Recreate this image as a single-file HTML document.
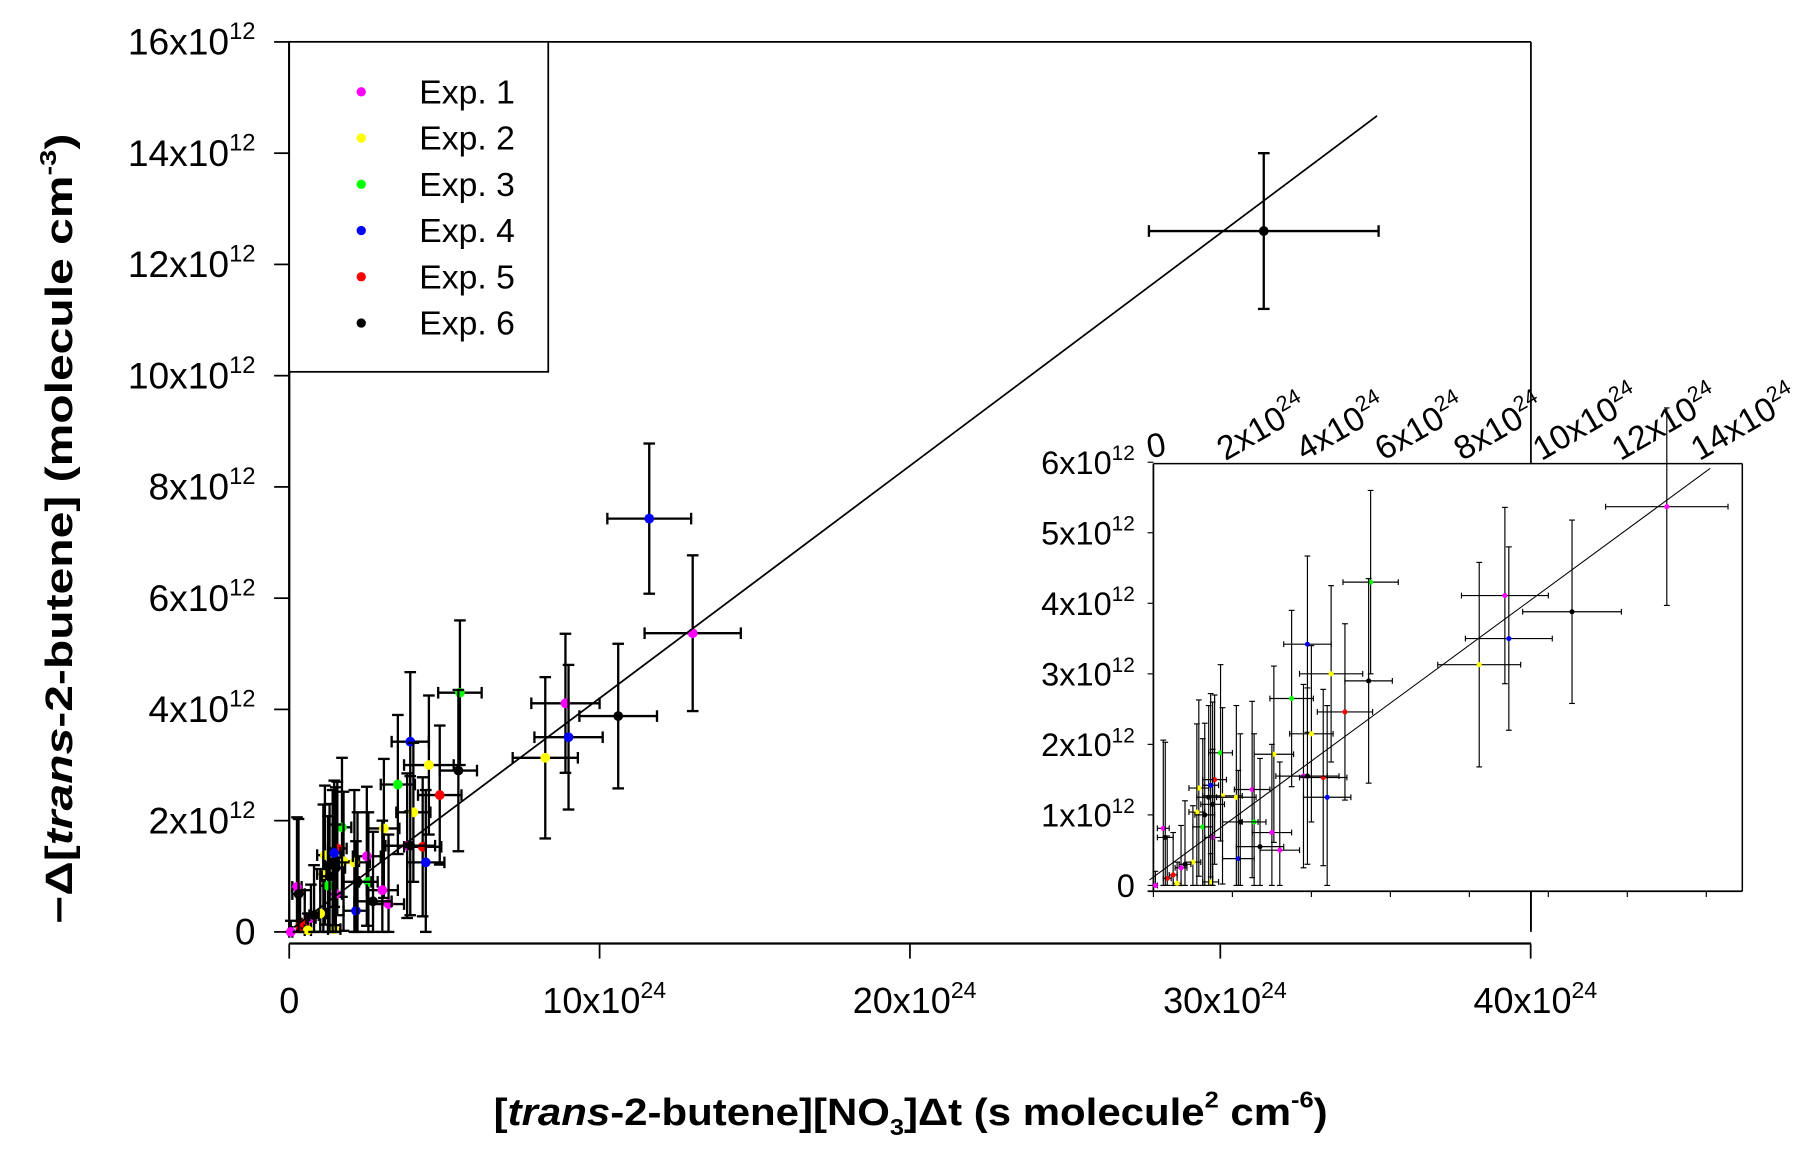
<!DOCTYPE html>
<html><head><meta charset="utf-8">
<style>
html,body{margin:0;padding:0;background:#fff;}
svg{display:block;font-family:"Liberation Sans",Arial,sans-serif;}
</style></head>
<body>
<svg id="chart" width="1812" height="1155" viewBox="0 0 1560 994" preserveAspectRatio="none" xmlns="http://www.w3.org/2000/svg">
<rect x="0" y="0" width="1560" height="994" fill="#fff"/>
<g id="main"></g>
<g id="legend"></g>
<g id="inset"></g>
<text transform="translate(62,455) rotate(-90)" text-anchor="middle" font-size="33" font-weight="bold" fill="#000" textLength="680" lengthAdjust="spacingAndGlyphs">−Δ[<tspan font-style="italic">trans</tspan>-2-butene] (molecule cm<tspan font-size="20" dy="-14">-3</tspan><tspan dy="14">)</tspan></text>
<text x="784" y="968" text-anchor="middle" font-size="33" font-weight="bold" fill="#000" textLength="718" lengthAdjust="spacingAndGlyphs">[<tspan font-style="italic">trans</tspan>-2-butene][NO<tspan font-size="20" dy="9">3</tspan><tspan dy="-9">]Δt (s molecule</tspan><tspan font-size="20" dy="-15">2</tspan><tspan dy="15"> cm</tspan><tspan font-size="20" dy="-15">-6</tspan><tspan dy="15">)</tspan></text>
</svg>
<script>
const NS="http://www.w3.org/2000/svg";
const colors=["#ff00ff","#ffff00","#00ff00","#0000ff","#ff0000","#000000"];
const expLabels=["Exp. 1","Exp. 2","Exp. 3","Exp. 4","Exp. 5","Exp. 6"];
// data: experiment index, x (1e24), y (1e12), x error, y error
const ptExp=[5,3,0,0,3,1,5,2,5,3,1,2,4,1,1,0,4,3,2,1,1,0,2,0,0,3,4,1,2,1,0,0,4,4,0,1,1,1,0,5,5,5,5,5,5,5,5,3];
const ptX=[31.4,11.6,13.0,8.9,9.0,8.25,10.6,5.5,5.45,3.9,4.5,3.5,4.85,4.0,3.05,3.8,4.3,4.4,1.7,1.75,2.1,2.5,2.55,3.0,3.2,2.15,1.55,1.15,1.25,1.1,0.25,0.05,0.35,0.5,0.7,0.6,1.0,1.45,1.5,0.3,1.5,2.7,3.9,1.3,1.4,2.2,0.8,1.45];
const ptY=[12.6,7.43,5.37,4.11,3.5,3.13,3.88,4.3,2.9,3.42,3.0,2.65,2.46,2.15,1.86,1.55,1.53,1.25,1.88,1.27,1.25,1.36,0.9,0.75,0.5,0.38,1.5,1.38,0.83,1.04,0.81,0.0,0.1,0.15,0.25,0.03,0.33,0.05,0.68,0.68,1.15,0.55,1.55,1.0,1.25,0.9,0.3,1.42];
const ptXErr=[3.7,1.35,1.55,1.1,1.1,1.05,1.25,0.7,0.6,0.6,0.8,0.55,0.7,0.55,0.5,0.6,0.6,0.6,0.3,0.5,0.5,0.45,0.3,0.5,0.5,0.4,0.3,0.25,0.25,0.2,0.15,0.05,0.1,0.1,0.15,0.1,0.2,0.2,0.2,0.2,0.3,0.6,0.8,0.25,0.3,0.45,0.15,0.2];
const ptYErr=[1.4,1.35,1.4,1.25,1.3,1.45,1.3,1.3,1.45,1.25,1.25,1.25,1.25,1.25,1.25,1.3,1.25,1.3,1.25,1.25,1.3,1.25,1.25,1.25,1.25,1.25,1.2,1.25,1.25,1.25,1.25,0.2,0.6,0.6,0.6,0.3,0.8,0.4,1.25,1.35,1.45,1.25,1.25,1.3,1.3,1.25,0.9,1.3];
const fitSlope=0.418, fitIntercept=0.02;
const mainYTicks=[0,2,4,6,8,10,12,14,16];
const mainXTicks=[0,10,20,30,40];
const insetYTicks=[0,1,2,3,4,5,6];
const insetXTicks=[0,2,4,6,8,10,12,14];

function el(tag,attrs,parent){const e=document.createElementNS(NS,tag);for(const k in attrs)e.setAttribute(k,attrs[k]);parent.appendChild(e);return e;}
function sciLabel(parent,x,y,mant,exp,fs,anchor,rot){
  const t=el("text",{x:x,y:y,"font-size":fs,"text-anchor":anchor,fill:"#000"},parent);
  if(rot)t.setAttribute("transform","rotate("+rot+" "+x+" "+y+")");
  if(exp===null){t.textContent=mant;return t;}
  const a=el("tspan",{},t);a.textContent=mant+"x10";
  const b=el("tspan",{"font-size":fs*0.64,dy:-fs*0.42},t);b.textContent=exp;
  return t;
}
function drawPoints(g,sx,sy,r,sw,cap,xmax,ymax){
  for(let i=0;i<ptX.length;i++){
    if(ptX[i]>xmax||ptY[i]>ymax)continue;
    const cx=sx(ptX[i]),cy=sy(ptY[i]);
    const pg=el("g",{},g);
    
    
    const y1=sy(Math.max(0,ptY[i]-ptYErr[i])), y2=sy(ptY[i]+ptYErr[i]);
    const x1=sx(Math.max(0,ptX[i]-ptXErr[i])), x2=sx(ptX[i]+ptXErr[i]);
    el("line",{x1:cx,y1:y1,x2:cx,y2:y2,stroke:"#000","stroke-width":sw},pg);
    el("line",{x1:cx-cap,y1:y1,x2:cx+cap,y2:y1,stroke:"#000","stroke-width":sw},pg);
    el("line",{x1:cx-cap,y1:y2,x2:cx+cap,y2:y2,stroke:"#000","stroke-width":sw},pg);
    el("line",{x1:x1,y1:cy,x2:x2,y2:cy,stroke:"#000","stroke-width":sw},pg);
    el("line",{x1:x1,y1:cy-cap,x2:x1,y2:cy+cap,stroke:"#000","stroke-width":sw},pg);
    el("line",{x1:x2,y1:cy-cap,x2:x2,y2:cy+cap,stroke:"#000","stroke-width":sw},pg);
    el("circle",{cx:cx,cy:cy,r:r,fill:colors[ptExp[i]]},pg);
  }
}

// main plot
const main=document.getElementById("main");
const mx=v=>249+v*26.72, my=v=>802-v*47.87;
el("line",{x1:249,y1:36,x2:1318,y2:36,stroke:"#000","stroke-width":1.5},main);
el("line",{x1:1318,y1:36,x2:1318,y2:802,stroke:"#000","stroke-width":1.5},main);
el("line",{x1:249,y1:36,x2:249,y2:802,stroke:"#000","stroke-width":2},main);
el("line",{x1:249,y1:812,x2:1318,y2:812,stroke:"#000","stroke-width":2},main);
mainYTicks.forEach(v=>{
  el("line",{x1:236,y1:my(v),x2:249,y2:my(v),stroke:"#000","stroke-width":1.5},main);
  const t=sciLabel(main,220,my(v)+11,v===0?"0":String(v),v===0?null:"12",32,"end");
  
  
});
mainXTicks.forEach(v=>{
  el("line",{x1:mx(v),y1:812,x2:mx(v),y2:825,stroke:"#000","stroke-width":1.5},main);
  const t=sciLabel(main,mx(v)+(v===0?0:4),872,v===0?"0":String(v),v===0?null:"24",31,"middle");
  
  
});
const pm=el("g",{},main);
drawPoints(pm,mx,my,4.2,2,5,100,100);
el("line",{x1:mx(0.15),y1:my(fitSlope*0.15+fitIntercept),x2:mx(35.05),y2:my(fitSlope*35.05+fitIntercept),stroke:"#000","stroke-width":1.5},main);

// legend
const lg=document.getElementById("legend");
el("rect",{x:249,y:36,width:223,height:284,fill:"#fff",stroke:"#000","stroke-width":1.5},lg);
expLabels.forEach((l,i)=>{
  const y=79+i*39.8;
  el("circle",{cx:311,cy:y,r:4,fill:colors[i]},lg);
  const t=el("text",{x:361,y:y+10,"font-size":29,fill:"#000"},lg);
  t.textContent=l;
  
  
});

// inset
const ins=document.getElementById("inset");
const ix=v=>993+v*34, iy=v=>762-v*60.7;
el("rect",{x:993,y:399,width:507,height:368,fill:"#fff"},ins);
el("line",{x1:993,y1:399,x2:1500,y2:399,stroke:"#000","stroke-width":1.3},ins);
el("line",{x1:1500,y1:399,x2:1500,y2:767,stroke:"#000","stroke-width":1.3},ins);
el("line",{x1:993,y1:399,x2:993,y2:767,stroke:"#000","stroke-width":1.5},ins);
el("line",{x1:988,y1:767,x2:1500,y2:767,stroke:"#000","stroke-width":1.5},ins);
el("line",{x1:1318,y1:767,x2:1318,y2:800,stroke:"#000","stroke-width":1.5},ins);
insetYTicks.forEach(v=>{
  el("line",{x1:988,y1:iy(v),x2:993,y2:iy(v),stroke:"#000","stroke-width":1},ins);
  const t=sciLabel(ins,977,iy(v)+10,v===0?"0":String(v),v===0?null:"12",28,"end");
  
  
});
insetXTicks.forEach(v=>{
  el("line",{x1:ix(v),y1:767,x2:ix(v),y2:772,stroke:"#000","stroke-width":1},ins);
  const t=v===0?sciLabel(ins,ix(v)+4,393,"0",null,29,"middle",-10):sciLabel(ins,ix(v)-6,397,String(v),"24",29,"start",-30);
  
  
});
const pi=el("g",{},ins);
drawPoints(pi,ix,iy,2.2,1,2.5,14.5,6);
el("line",{x1:ix(-0.1),y1:iy(fitSlope*-0.1+fitIntercept+0.1),x2:ix(14.1),y2:iy(fitSlope*14.1+fitIntercept),stroke:"#000","stroke-width":0.9},ins);
</script>
</body></html>
